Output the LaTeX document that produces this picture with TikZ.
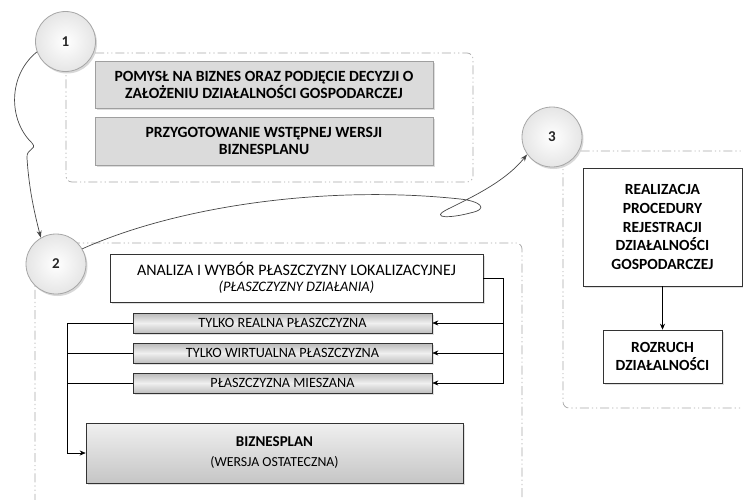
\documentclass[tikz,border=0pt]{standalone}
\usepackage{fontspec}
\setmainfont{Carlito}
\usetikzlibrary{arrows.meta,shadows,calc}

\tikzset{
  grp/.style={draw=gray!70, line width=0.7pt, rounded corners=6pt,
    dash pattern=on 9pt off 3pt on 1.2pt off 3pt on 1.2pt off 3pt},
  stepnum/.style={circle, minimum size=60pt, inner sep=0pt, draw=gray!70, line width=0.8pt,
    inner color=white, outer color=gray!20, text=gray!30!black,
    font=\fontsize{15}{17}\selectfont\bfseries,
    drop shadow={shadow xshift=1.5pt, shadow yshift=-2pt, fill=gray!60, opacity=0.5}},
  greybox/.style={draw=gray!75, line width=0.6pt, fill=gray!28, align=center, inner sep=2pt,
    font=\fontsize{15.6}{17}\selectfont\bfseries,
    drop shadow={shadow xshift=1.5pt, shadow yshift=-1.5pt, fill=gray!45, opacity=0.6}},
  whitebox/.style={draw=gray!40!black, line width=0.6pt, fill=white, align=center, inner sep=2pt,
    drop shadow={shadow xshift=1.5pt, shadow yshift=-1.5pt, fill=gray!40, opacity=0.6}},
  barbox/.style={draw=gray!40!black, line width=0.6pt, top color=gray!55, bottom color=gray!50,
    middle color=gray!12, minimum width=299pt, minimum height=20pt, inner sep=1pt,
    font=\fontsize{14.2}{15}\selectfont,
    drop shadow={shadow xshift=1.5pt, shadow yshift=-1.5pt, fill=gray!40, opacity=0.6}},
  finalbox/.style={draw=gray!40!black, line width=0.6pt, top color=gray!12, bottom color=gray!45,
    align=center, minimum width=377pt, minimum height=60pt,
    drop shadow={shadow xshift=1.5pt, shadow yshift=-1.5pt, fill=gray!40, opacity=0.6}},
  conn/.style={draw=black, line width=0.6pt},
  tip/.style={-{Stealth[length=6pt,width=5pt]}},
  flowcurve/.style={draw=gray!55!black, line width=0.7pt, -{Stealth[length=7pt,width=5pt]}},
}

\begin{document}
\begin{tikzpicture}[x=1pt,y=-1pt]
\useasboundingbox (0,0) rectangle (743,499);
\clip (0,0) rectangle (743,499);

% dashed stage frames
\draw[grp] (66,53) rectangle (473,182);
\draw[grp] (35,243) rectangle (522,530);
\draw[grp] (563,151) rectangle (775,408);

% stage 1
\node[greybox, minimum width=338pt, minimum height=47pt] (idea) at (264,84.5)
  {POMYSŁ NA BIZNES ORAZ PODJĘCIE DECYZJI O\\ZAŁOŻENIU DZIAŁALNOŚCI GOSPODARCZEJ};
\node[greybox, minimum width=338pt, minimum height=48pt] (draft) at (264,141)
  {PRZYGOTOWANIE WSTĘPNEJ WERSJI\\BIZNESPLANU};

% stage 2
\node[whitebox, minimum width=373pt, minimum height=48pt,
      font=\fontsize{16}{16}\selectfont] (anal) at (296.5,278)
  {ANALIZA I WYBÓR PŁASZCZYZNY LOKALIZACYJNEJ\\
   {\fontsize{14.5}{15}\selectfont\itshape (PŁASZCZYZNY DZIAŁANIA)}};
\node[barbox] (real) at (282.5,323) {TYLKO REALNA PŁASZCZYZNA};
\node[barbox] (virt) at (282.5,353) {TYLKO WIRTUALNA PŁASZCZYZNA};
\node[barbox] (mix) at (282.5,383) {PŁASZCZYZNA MIESZANA};
\node[finalbox, font=\fontsize{15}{20}\selectfont] (plan) at (274.5,453)
  {\textbf{BIZNESPLAN}\\
   {\fontsize{13.8}{15}\selectfont (WERSJA OSTATECZNA)}};

\coordinate (rb) at (503,383);
\coordinate (lb) at (67,453);
\draw[conn, tip] (anal.east) -| (rb) -- (mix.east);
\draw[conn, tip] (rb |- real) -- (real.east);
\draw[conn, tip] (rb |- virt) -- (virt.east);
\draw[conn, tip] (real.west) -| (lb) -- (plan.west);
\draw[conn] (virt.west) -- (lb |- virt);
\draw[conn] (mix.west) -- (lb |- mix);

% stage 3
\node[whitebox, minimum width=159pt, minimum height=118pt,
      font=\fontsize{15.5}{18.7}\selectfont\bfseries] (reg) at (662.5,227)
  {REALIZACJA\\PROCEDURY\\REJESTRACJI\\DZIAŁALNOŚCI\\GOSPODARCZEJ};
\node[whitebox, minimum width=119pt, minimum height=53pt,
      font=\fontsize{15.5}{18.5}\selectfont\bfseries] (start) at (662.5,356.5)
  {ROZRUCH\\DZIAŁALNOŚCI};
\draw[conn, tip] (reg.south) -- (start.north);

% stage markers
\node[stepnum] (s1) at (65.5,41.5) {1};
\node[stepnum] (s2) at (56,264) {2};
\node[stepnum] (s3) at (552,137) {3};

% transitions between stages
\draw[flowcurve] (s1.200) .. controls (8,75) and (8,120) .. (32,143)
  .. controls (38,150) and (26,148) .. (27,158)
  .. controls (29,190) and (35,215) .. (s2.120);
\draw[flowcurve] (s2.30) .. controls (180,205) and (330,185) .. (460,199)
  .. controls (480,201) and (490,209) .. (470,213)
  .. controls (452,218) and (428,219) .. (448,209)
  .. controls (470,198) and (505,182) .. (s3.215);
\end{tikzpicture}
\end{document}
